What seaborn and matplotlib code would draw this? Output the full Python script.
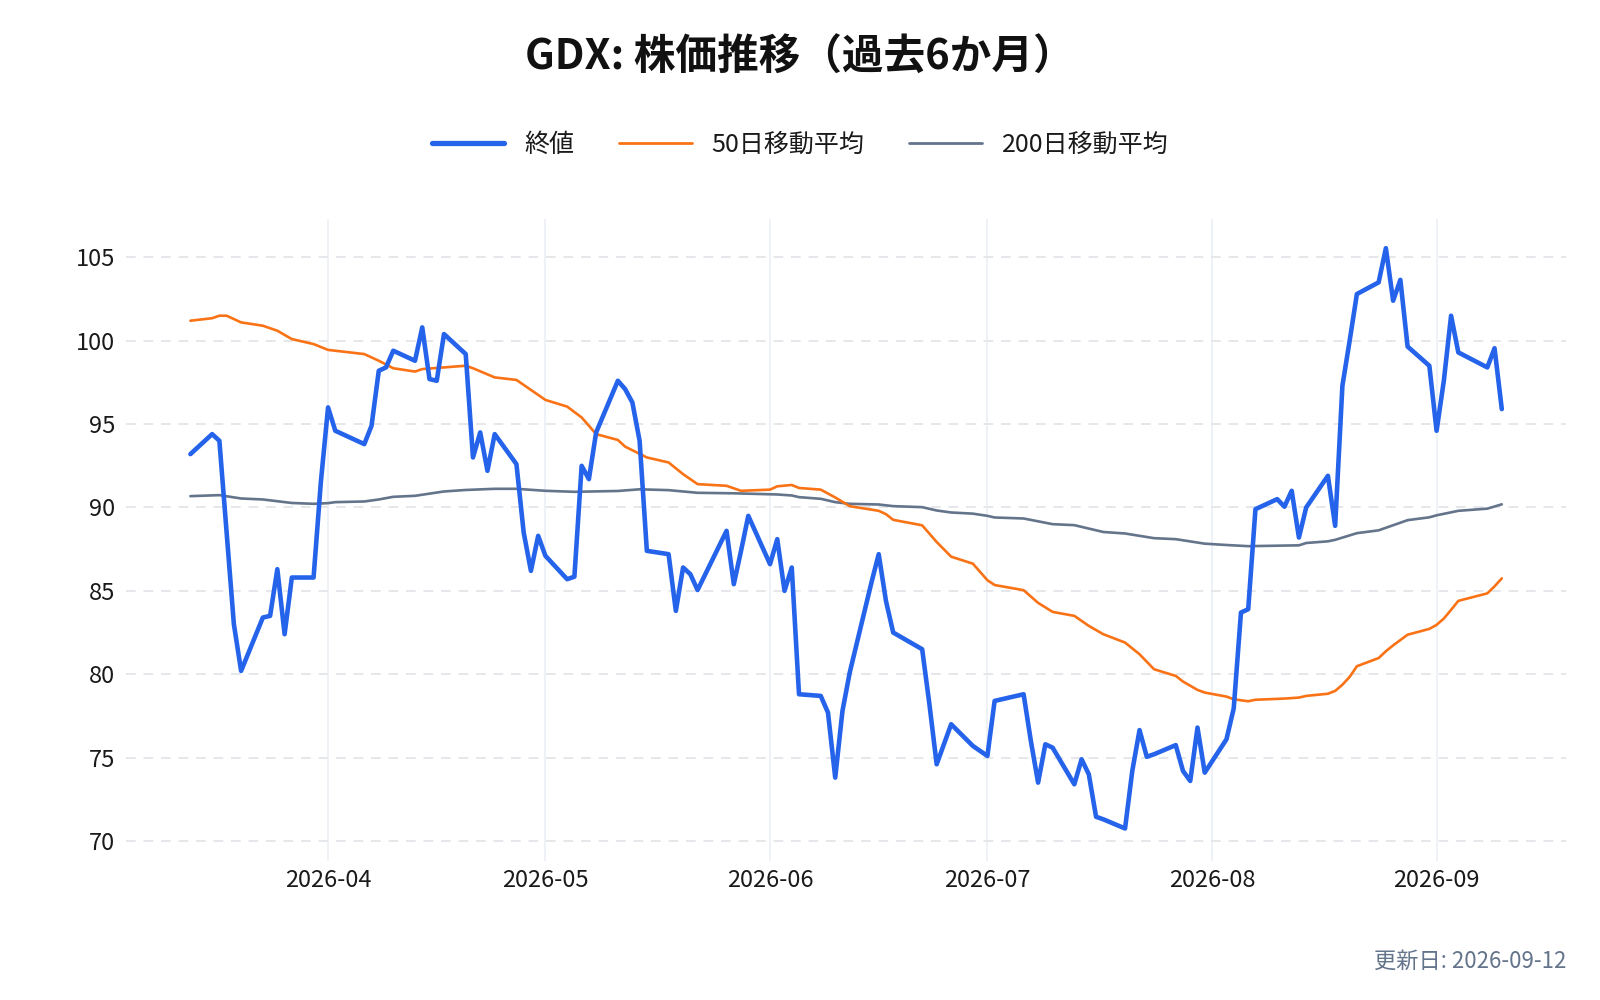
import matplotlib
matplotlib.use("Agg")
import matplotlib.pyplot as plt
import matplotlib.dates as mdates
from matplotlib.lines import Line2D
import seaborn as sns
import pandas as pd

# ---- data ----
close_dates = [
    "2026-03-13", "2026-03-16", "2026-03-17", "2026-03-18", "2026-03-19", "2026-03-20",
    "2026-03-23", "2026-03-24", "2026-03-25", "2026-03-26", "2026-03-27", "2026-03-30",
    "2026-03-31", "2026-04-01", "2026-04-02", "2026-04-06", "2026-04-07", "2026-04-08",
    "2026-04-09", "2026-04-10", "2026-04-13", "2026-04-14", "2026-04-15", "2026-04-16",
    "2026-04-17", "2026-04-20", "2026-04-21", "2026-04-22", "2026-04-23", "2026-04-24",
    "2026-04-27", "2026-04-28", "2026-04-29", "2026-04-30", "2026-05-01", "2026-05-04",
    "2026-05-05", "2026-05-06", "2026-05-07", "2026-05-08", "2026-05-11", "2026-05-12",
    "2026-05-13", "2026-05-14", "2026-05-15", "2026-05-18", "2026-05-19", "2026-05-20",
    "2026-05-21", "2026-05-22", "2026-05-26", "2026-05-27", "2026-05-28", "2026-05-29",
    "2026-06-01", "2026-06-02", "2026-06-03", "2026-06-04", "2026-06-05", "2026-06-08",
    "2026-06-09", "2026-06-10", "2026-06-11", "2026-06-12", "2026-06-15", "2026-06-16",
    "2026-06-17", "2026-06-18", "2026-06-22", "2026-06-23", "2026-06-24", "2026-06-25",
    "2026-06-26", "2026-06-29", "2026-06-30", "2026-07-01", "2026-07-02", "2026-07-06",
    "2026-07-07", "2026-07-08", "2026-07-09", "2026-07-10", "2026-07-13", "2026-07-14",
    "2026-07-15", "2026-07-16", "2026-07-17", "2026-07-20", "2026-07-21", "2026-07-22",
    "2026-07-23", "2026-07-24", "2026-07-27", "2026-07-28", "2026-07-29", "2026-07-30",
    "2026-07-31", "2026-08-03", "2026-08-04", "2026-08-05", "2026-08-06", "2026-08-07",
    "2026-08-10", "2026-08-11", "2026-08-12", "2026-08-13", "2026-08-14", "2026-08-17",
    "2026-08-18", "2026-08-19", "2026-08-20", "2026-08-21", "2026-08-24", "2026-08-25",
    "2026-08-26", "2026-08-27", "2026-08-28", "2026-08-31", "2026-09-01", "2026-09-02",
    "2026-09-03", "2026-09-04", "2026-09-08", "2026-09-09", "2026-09-10",
]
close_values = [
    93.2, 94.4, 94.0, 88.5, 83.0, 80.2,
    83.4, 83.5, 86.3, 82.4, 85.8, 85.8,
    91.5, 96.0, 94.6, 93.8, 94.9, 98.2,
    98.4, 99.4, 98.8, 100.8, 97.7, 97.6,
    100.4, 99.2, 93.0, 94.5, 92.2, 94.4,
    92.6, 88.5, 86.2, 88.3, 87.1, 85.7,
    85.85, 92.5, 91.7, 94.5, 97.6, 97.1,
    96.3, 94.0, 87.4, 87.2, 83.8, 86.4,
    86.0, 85.05, 88.6, 85.4, 87.4, 89.5,
    86.6, 88.1, 85.0, 86.4, 78.8, 78.7,
    77.7, 73.8, 77.8, 80.1, 85.5, 87.2,
    84.4, 82.5, 81.5, 78.2, 74.6, 75.8,
    77.0, 75.7, 75.4, 75.1, 78.4, 78.8,
    76.0, 73.5, 75.8, 75.6, 73.4, 74.9,
    74.0, 71.45, 71.3, 70.75, 74.2, 76.65,
    75.05, 75.2, 75.75, 74.2, 73.6, 76.8,
    74.1, 76.1, 77.95, 83.7, 83.9, 89.9,
    90.5, 90.05, 91.0, 88.2, 90.0, 91.9,
    88.9, 97.3, 100.0, 102.8, 103.5, 105.55,
    102.4, 103.65, 99.65, 98.5, 94.6, 97.6,
    101.5, 99.3, 98.4, 99.55, 95.9,
]

ma50_dates = [
    "2026-03-13", "2026-03-16", "2026-03-17", "2026-03-18", "2026-03-20", "2026-03-23",
    "2026-03-25", "2026-03-27", "2026-03-30", "2026-04-01", "2026-04-06", "2026-04-08",
    "2026-04-10", "2026-04-13", "2026-04-14", "2026-04-20", "2026-04-21", "2026-04-24",
    "2026-04-27", "2026-05-01", "2026-05-04", "2026-05-06", "2026-05-08", "2026-05-11",
    "2026-05-12", "2026-05-15", "2026-05-18", "2026-05-20", "2026-05-22", "2026-05-26",
    "2026-05-28", "2026-06-01", "2026-06-02", "2026-06-04", "2026-06-05", "2026-06-08",
    "2026-06-10", "2026-06-12", "2026-06-16", "2026-06-17", "2026-06-18", "2026-06-22",
    "2026-06-24", "2026-06-26", "2026-06-29", "2026-07-01", "2026-07-02", "2026-07-06",
    "2026-07-08", "2026-07-10", "2026-07-13", "2026-07-15", "2026-07-17", "2026-07-20",
    "2026-07-22", "2026-07-24", "2026-07-27", "2026-07-28", "2026-07-30", "2026-07-31",
    "2026-08-03", "2026-08-04", "2026-08-06", "2026-08-07", "2026-08-11", "2026-08-13",
    "2026-08-14", "2026-08-17", "2026-08-18", "2026-08-19", "2026-08-20", "2026-08-21",
    "2026-08-24", "2026-08-25", "2026-08-26", "2026-08-28", "2026-08-31", "2026-09-01",
    "2026-09-02", "2026-09-03", "2026-09-04", "2026-09-08", "2026-09-09", "2026-09-10",
]
ma50_values = [
    101.2, 101.35, 101.5, 101.5, 101.1, 100.9,
    100.6, 100.1, 99.8, 99.45, 99.2, 98.8,
    98.35, 98.15, 98.3, 98.5, 98.35, 97.8,
    97.65, 96.45, 96.05, 95.4, 94.4, 94.05,
    93.65, 93.0, 92.7, 92.0, 91.4, 91.3,
    91.0, 91.07, 91.27, 91.35, 91.17, 91.07,
    90.6, 90.08, 89.8, 89.6, 89.26, 88.93,
    87.93, 87.05, 86.63, 85.64, 85.35, 85.04,
    84.28, 83.74, 83.5, 82.9, 82.4, 81.9,
    81.2, 80.3, 79.9, 79.56, 79.06, 78.9,
    78.66, 78.5, 78.38, 78.47, 78.54, 78.6,
    78.7, 78.83, 79.0, 79.37, 79.84, 80.48,
    80.97, 81.38, 81.73, 82.37, 82.72, 82.96,
    83.34, 83.86, 84.4, 84.85, 85.27, 85.75,
]

ma200_dates = [
    "2026-03-13", "2026-03-17", "2026-03-20", "2026-03-23", "2026-03-27", "2026-03-30",
    "2026-04-01", "2026-04-02", "2026-04-06", "2026-04-08", "2026-04-10", "2026-04-13",
    "2026-04-17", "2026-04-20", "2026-04-24", "2026-04-27", "2026-05-01", "2026-05-05",
    "2026-05-11", "2026-05-14", "2026-05-18", "2026-05-22", "2026-05-27", "2026-06-02",
    "2026-06-04", "2026-06-05", "2026-06-08", "2026-06-10", "2026-06-12", "2026-06-16",
    "2026-06-18", "2026-06-22", "2026-06-24", "2026-06-26", "2026-06-29", "2026-07-01",
    "2026-07-02", "2026-07-06", "2026-07-08", "2026-07-10", "2026-07-13", "2026-07-17",
    "2026-07-20", "2026-07-24", "2026-07-27", "2026-07-31", "2026-08-03", "2026-08-06",
    "2026-08-13", "2026-08-14", "2026-08-17", "2026-08-18", "2026-08-21", "2026-08-24",
    "2026-08-28", "2026-08-31", "2026-09-01", "2026-09-04", "2026-09-08", "2026-09-10",
]
ma200_values = [
    90.68, 90.74, 90.54, 90.48, 90.27, 90.22,
    90.26, 90.32, 90.36, 90.48, 90.64, 90.7,
    90.96, 91.05, 91.12, 91.12, 91.0, 90.94,
    90.99, 91.09, 91.04, 90.88, 90.85, 90.78,
    90.72, 90.62, 90.52, 90.32, 90.22, 90.18,
    90.08, 90.02, 89.82, 89.7, 89.63, 89.5,
    89.4, 89.34, 89.17, 89.0, 88.94, 88.53,
    88.44, 88.16, 88.1, 87.83, 87.75, 87.68,
    87.73, 87.87, 87.97, 88.06, 88.46, 88.63,
    89.24, 89.41, 89.53, 89.8, 89.93, 90.19,
]

y_ticks = [70, 75, 80, 85, 90, 95, 100, 105]
title_text = "GDX: 株価推移（過去6か月）"
legend_labels = ["終値", "50日移動平均", "200日移動平均"]
updated_text = "更新日: 2026-09-12"

# ---- styling ----
sns.set_theme(style="white")
plt.rcParams["font.family"] = ["Noto Sans CJK JP", "DejaVu Sans"]

c_close = "#2563eb"
c_ma50 = "#f97316"
c_ma200 = "#64748b"

df_close = pd.DataFrame({"date": pd.to_datetime(close_dates), "value": close_values})
df_ma50 = pd.DataFrame({"date": pd.to_datetime(ma50_dates), "value": ma50_values})
df_ma200 = pd.DataFrame({"date": pd.to_datetime(ma200_dates), "value": ma200_values})

fig = plt.figure(figsize=(16, 10), dpi=100)
ax = fig.add_axes([0.079, 0.139, 0.900, 0.642])

sns.lineplot(data=df_ma200, x="date", y="value", ax=ax, color=c_ma200, linewidth=1.9)
sns.lineplot(data=df_ma50, x="date", y="value", ax=ax, color=c_ma50, linewidth=1.9)
sns.lineplot(data=df_close, x="date", y="value", ax=ax, color=c_close, linewidth=3.3)

ax.set_xlim(pd.Timestamp("2026-03-04 04:00"), pd.Timestamp("2026-09-18 22:00"))
ax.set_ylim(68.8, 107.3)
ax.set_yticks(y_ticks)
ax.xaxis.set_major_locator(mdates.MonthLocator())
ax.xaxis.set_major_formatter(mdates.DateFormatter("%Y-%m"))

ax.set_xlabel("")
ax.set_ylabel("")
for s in ax.spines.values():
    s.set_visible(False)

ax.grid(False)
ax.yaxis.grid(True, linestyle=(0, (5, 4)), color="#e5e7eb", linewidth=1.4)
ax.xaxis.grid(True, linestyle="-", color="#eef1f6", linewidth=1.4)
ax.set_axisbelow(True)
ax.tick_params(axis="both", length=0, labelsize=17, colors="#1a1a1a")
ax.tick_params(axis="x", pad=6)
ax.tick_params(axis="y", pad=8)

fig.text(0.5, 0.942, title_text, ha="center", va="center", fontsize=30,
         fontweight="bold", color="#111111")

handles = [
    Line2D([0], [0], color=c_close, linewidth=3.8),
    Line2D([0], [0], color=c_ma50, linewidth=2.0),
    Line2D([0], [0], color=c_ma200, linewidth=2.0),
]
fig.legend(handles, legend_labels, loc="center", bbox_to_anchor=(0.5, 0.855),
           ncol=3, frameon=False, fontsize=18, handlelength=2.9,
           handletextpad=0.8, columnspacing=1.8, labelcolor="#1a1a1a")

fig.text(0.979, 0.039, updated_text, ha="right", va="center", fontsize=16,
         color="#64748b")

fig.savefig("out.png", dpi=100)
